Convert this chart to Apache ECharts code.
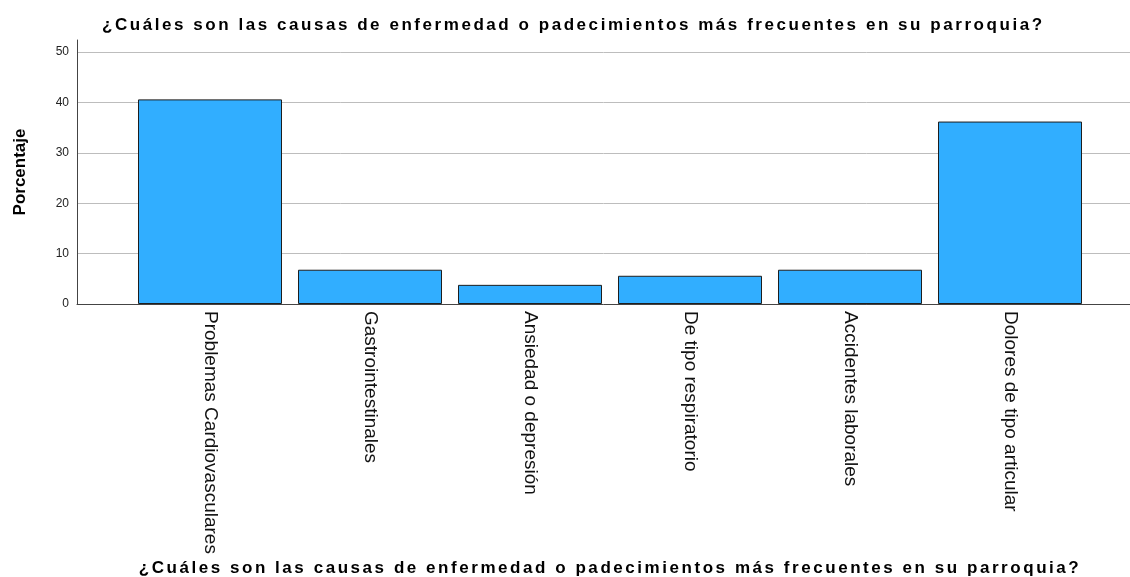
<!DOCTYPE html>
<html>
<head>
<meta charset="utf-8">
<style>
  html, body { margin: 0; padding: 0; background: #fff; }
  #chart { width: 1130px; height: 577px; }
</style>
<script src="https://cdn.jsdelivr.net/npm/echarts@6/dist/echarts.min.js"></script>
</head>
<body>
<div id="chart"></div>
<script>
const titleText = "¿Cuáles son las causas de enfermedad o padecimientos más frecuentes en su parroquia?"
const categories = [
  "Problemas Cardiovasculares",
  "Gastrointestinales",
  "Ansiedad o depresión",
  "De tipo respiratorio",
  "Accidentes laborales",
  "Dolores de tipo articular"
]
const percentages = [40.6, 6.8, 3.8, 5.6, 6.8, 36.2]
const yMax = 50
const yAxisTop = 52.4 // the axis line runs a bit past the last tick

// SPSS spreads the title letters out; zrender has no letter-spacing, so each char gets its own rich box
function spaced(text) {
  return text.split("").map((ch) => "{c|" + ch + "}").join("")
}

const font = "'Liberation Sans', Arial, sans-serif"
const spacedRich = { c: { fontFamily: font, fontWeight: "bold", fontSize: 17, color: "#000", padding: [0, 2.55, 0, 0] } }

const chart = echarts.init(document.getElementById("chart"))

chart.setOption({
  animation: false,
  title: {
    text: spaced(titleText),
    left: 97,
    top: 12,
    textStyle: { rich: spacedRich }
  },
  // v6 shrinks grids to keep axis names inside the canvas - the bottom title touches the edge, so turn that off
  grid: [
    // frame: y axis line, labels, gridlines and the full-width baseline
    { left: 77, right: 0, top: 40, bottom: 273, outerBoundsMode: "none" },
    // bars sit in a narrower band than the frame
    { left: 130, right: 40, top: 52, bottom: 273, outerBoundsMode: "none" }
  ],
  xAxis: [
    {
      gridIndex: 0,
      type: "value",
      min: 0,
      max: 1,
      axisLine: { show: true, lineStyle: { color: "#444", width: 1 } },
      axisTick: { show: false },
      axisLabel: { show: false },
      splitLine: { show: false }
    },
    {
      gridIndex: 1,
      type: "category",
      data: categories,
      axisLine: { show: false },
      axisTick: { show: false },
      axisLabel: {
        rotate: -90,
        margin: 7,
        fontFamily: font,
        fontSize: 19,
        color: "#111"
      },
      name: spaced(titleText),
      nameLocation: "middle",
      nameGap: 256,
      nameTextStyle: { rich: spacedRich }
    }
  ],
  yAxis: [
    {
      gridIndex: 0,
      type: "value",
      min: 0,
      max: yAxisTop,
      interval: 10,
      axisLine: { show: true, lineStyle: { color: "#444", width: 1 } },
      axisTick: { show: false },
      axisLabel: { showMaxLabel: false, margin: 8, fontFamily: font, fontSize: 12, color: "#222" },
      splitLine: { show: true, showMaxLine: false, lineStyle: { color: "#bdbdbd", width: 1 } },
      name: "Porcentaje",
      nameLocation: "middle",
      nameGap: 48,
      nameTextStyle: { fontFamily: font, fontWeight: "bold", fontSize: 17, color: "#000" }
    },
    {
      gridIndex: 1,
      type: "value",
      min: 0,
      max: yMax,
      show: false
    }
  ],
  series: [
    {
      type: "bar",
      xAxisIndex: 1,
      yAxisIndex: 1,
      data: percentages,
      barCategoryGap: "10%",
      itemStyle: { color: "#31aeff", borderColor: "#1e1e1e", borderWidth: 1 }
    }
  ]
})
</script>
</body>
</html>
